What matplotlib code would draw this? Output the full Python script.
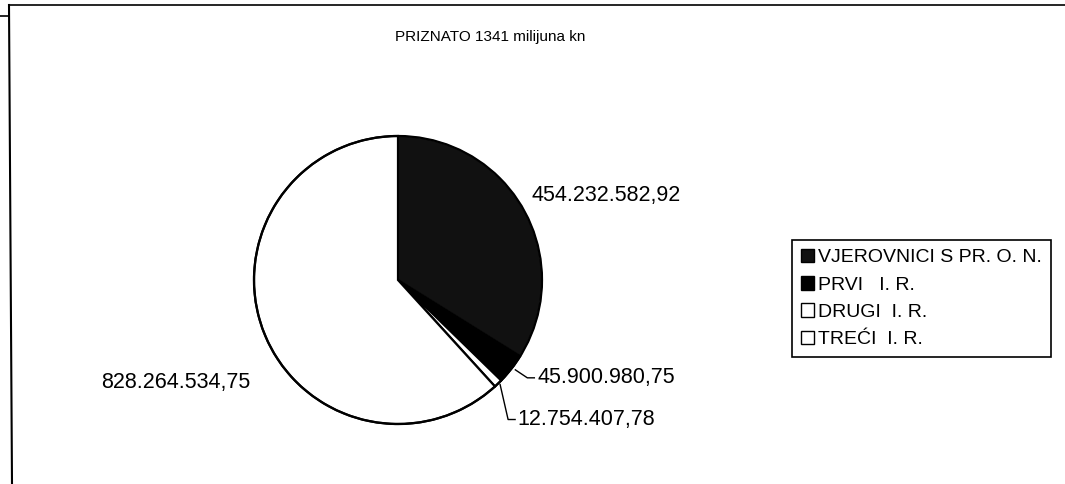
import numpy as np
import matplotlib
matplotlib.use('Agg')
import matplotlib.pyplot as plt
from matplotlib.lines import Line2D

plt.rcParams['font.family'] = ['Liberation Sans', 'DejaVu Sans']

# data
categories = ['VJEROVNICI S PR. O. N.', 'PRVI   I. R.', 'DRUGI  I. R.', 'TREĆI  I. R.']
values = [454232582.92, 45900980.75, 12754407.78, 828264534.75]
value_labels = ['454.232.582,92', '45.900.980,75', '12.754.407,78', '828.264.534,75']
colors = ['#111111', '#000000', '#ffffff', '#ffffff']
title = 'PRIZNATO 1341 milijuna kn'

W, H = 1065, 484
fig = plt.figure(figsize=(W / 100, H / 100), dpi=100)
# axes in pixel units, y measured from the bottom
ax = fig.add_axes([0, 0, 1, 1])

cx, cy, r = 398, H - 280, 144
wedges, _ = ax.pie(values, colors=colors, startangle=90, counterclock=False,
                   center=(cx, cy), radius=r,
                   wedgeprops=dict(edgecolor='black', linewidth=1.6))
# light seam between the two dark slices, as in the scan
wedges[0].set_edgecolor('#9a9a9a')
wedges[0].set_linewidth(0.8)
ax.add_patch(plt.Circle((cx, cy), r, fill=False, edgecolor='black', linewidth=1.6))

ax.set_xlim(0, W)
ax.set_ylim(0, H)
ax.set_aspect('auto')
ax.axis('off')

# slice mid angles
fracs = np.array(values) / sum(values)
cum = np.cumsum(fracs) - fracs / 2
mids = np.deg2rad(90 - cum * 360)
edge = [(cx + r * np.cos(a), cy + r * np.sin(a)) for a in mids]

fs = 15.5
# big dark slice
ex, ey = edge[0]
ax.text(ex + 8, ey + 15, value_labels[0], fontsize=fs, ha='left', va='center')
# small slices with leader lines
ex, ey = edge[1]
ax.plot([ex + 4, ex + 16, ex + 23], [ey - 1, ey - 9, ey - 9], color='black', lw=1)
ax.text(ex + 26, ey - 9, value_labels[1], fontsize=fs, ha='left', va='center')
ex, ey = edge[2]
ax.plot([ex + 2, ex + 10, ex + 17], [ey - 1, ey - 36, ey - 36], color='black', lw=1)
ax.text(ex + 19, ey - 36, value_labels[2], fontsize=fs, ha='left', va='center')
# big white slice
ex, ey = edge[3]
ax.text(ex - 13, ey - 51, value_labels[3], fontsize=fs, ha='right', va='center')

fig.text(490 / W, 1 - 37 / H, title, fontsize=11, ha='center', va='center')

leg = fig.legend(wedges, categories, loc='upper left',
                 bbox_to_anchor=(792 / W, 1 - 240 / H), fontsize=14,
                 frameon=True, fancybox=False, framealpha=1, edgecolor='black',
                 handlelength=0.7, handleheight=0.7, handletextpad=0.2,
                 labelspacing=0.5, borderpad=0.45, borderaxespad=0)
leg.get_frame().set_linewidth(1.2)
for h in leg.legend_handles:
    h.set_edgecolor('black')
    h.set_linewidth(1)

# outer chart frame (left and top edges of the scanned page)
fig.add_artist(Line2D([9 / W, 12 / W], [1 - 5 / H, 0], color='black', lw=1.5))
fig.add_artist(Line2D([9 / W, 1], [1 - 5 / H, 1 - 5 / H], color='black', lw=1.2))
fig.add_artist(Line2D([0, 9 / W], [1 - 16 / H, 1 - 16 / H], color='black', lw=1.2))

fig.savefig('out.png', dpi=100, facecolor='white')
